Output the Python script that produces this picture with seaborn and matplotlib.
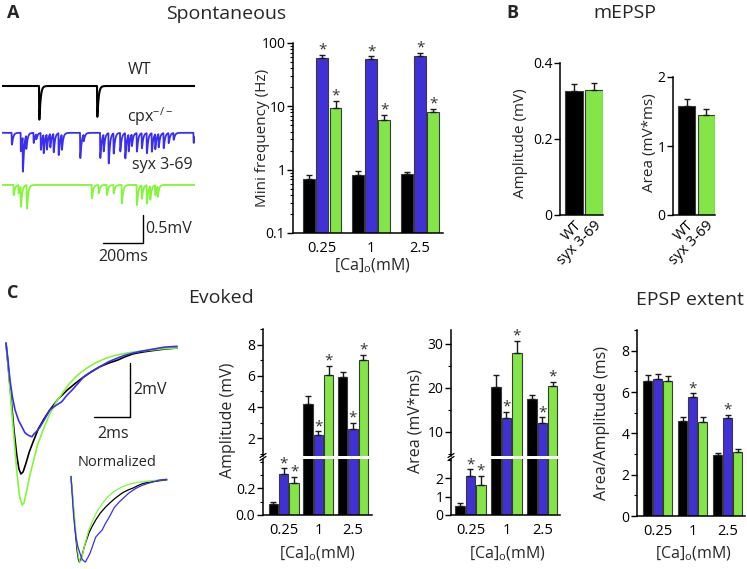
import numpy as np
import pandas as pd
import seaborn as sns
import matplotlib.pyplot as plt
from matplotlib.ticker import MultipleLocator, NullFormatter

sns.set_theme(style="ticks")
plt.rcParams['font.family'] = ['Open Sans', 'DejaVu Sans']
plt.rcParams['mathtext.fontset'] = 'custom'
plt.rcParams['mathtext.rm'] = 'Open Sans'

W, H = 747, 569
BLACK, BLUE, GREEN = '#000000', '#2a16f2', '#7cff2e'
TBLUE, TGREEN = '#3a2ef0', '#84f53a'
genos = ['WT', 'cpx-/-', 'syx 3-69']
conc = ['0.25', '1', '2.5']

# --- spontaneous events (ms, mV)
wt_ev_t = [185, 475]
wt_ev_a = [0.60, 0.55]
cpx_ev_t = [48, 93, 103, 120, 157, 170, 193, 207, 223, 240, 257, 282, 298, 390, 407,
            490, 507, 532, 557, 590, 615, 632, 648, 673, 698, 723, 748, 765, 782, 807,
            832, 857, 957]
cpx_ev_a = [0.21, 0.33, 0.62, 0.24, 0.18, 0.09, 0.30, 0.33, 0.27, 0.24, 0.33, 0.39, 0.27,
            0.45, 0.12, 0.45, 0.30, 0.54, 0.36, 0.33, 0.45, 0.30, 0.21, 0.33, 0.27, 0.36,
            0.33, 0.27, 0.24, 0.27, 0.18, 0.12, 0.18]
syx_ev_t = [57, 82, 93, 123, 448, 482, 523, 557, 598, 673, 698, 723, 740, 765, 777]
syx_ev_a = [0.18, 0.15, 0.36, 0.42, 0.24, 0.15, 0.18, 0.15, 0.33, 0.36, 0.24, 0.33, 0.24,
            0.18, 0.18]

# --- mini frequency (Hz)
freq_wt, freq_wt_err = [0.72, 0.83, 0.85], [0.11, 0.11, 0.07]
freq_cpx, freq_cpx_err = [58, 55.8, 63], [7.0, 5.7, 6.5]
freq_syx, freq_syx_err = [9.4, 6.0, 8.0], [2.9, 1.4, 1.1]
freq_star = [[0, 0, 0], [1, 1, 1], [1, 1, 1]]

# --- mEPSP
mepsp_amp, mepsp_amp_err = [0.327, 0.330], [0.018, 0.017]
mepsp_area, mepsp_area_err = [1.58, 1.45], [0.10, 0.087]

# --- evoked EPSP traces (ms, mV)
ev_black_t = [0, 0.15, 0.3, 0.45, 0.6, 0.72, 0.83, 0.95, 1.1, 1.3, 1.5, 1.8, 2.1, 2.44, 2.9,
              3.4, 3.85, 4.3, 4.75, 5.2, 5.7, 6.2, 6.6, 7.05, 7.5, 8.0, 8.7, 9.5]
ev_black_v = [0.07, -1.0, -2.1, -3.2, -4.1, -4.6, -4.78, -4.7, -4.4, -3.95, -3.6, -3.1, -2.75,
              -2.4, -2.0, -1.67, -1.42, -1.19, -0.99, -0.81, -0.67, -0.56, -0.44, -0.33, -0.27,
              -0.22, -0.16, -0.11]
ev_green_t = [0, 0.15, 0.3, 0.45, 0.6, 0.75, 0.89, 1.0, 1.15, 1.3, 1.5, 1.75, 2.06, 2.4, 2.8,
              3.2, 3.56, 4.0, 4.5, 5.0, 5.6, 6.1, 6.7, 7.3, 8.0, 8.7, 9.5]
ev_green_v = [0.07, -1.0, -2.3, -3.5, -4.7, -5.6, -5.93, -5.85, -5.4, -4.9, -4.37, -3.7, -3.15,
              -2.6, -2.1, -1.72, -1.4, -1.1, -0.85, -0.65, -0.48, -0.38, -0.3, -0.24, -0.19,
              -0.14, -0.11]
ev_blue_t = [0, 0.1, 0.22, 0.35, 0.5, 0.7, 0.89, 1.05, 1.2, 1.35, 1.44, 1.55, 1.7, 1.89, 2.1,
             2.44, 2.75, 3.1, 3.4, 3.67, 4.0, 4.3, 4.75, 5.2, 5.7, 6.2, 6.6, 7.05, 7.6, 8.2,
             8.8, 9.5]
ev_blue_v = [0.07, -0.5, -1.3, -1.9, -2.4, -2.8, -3.04, -3.25, -3.33, -3.38, -3.4, -3.3, -3.2,
             -3.04, -2.8, -2.4, -2.25, -2.1, -1.85, -1.67, -1.42, -1.19, -0.98, -0.81, -0.62,
             -0.48, -0.38, -0.3, -0.22, -0.15, -0.08, -0.05]

# --- evoked amplitude (mV)
amp_wt, amp_wt_err = [0.08, 4.2, 5.9], [0.02, 0.52, 0.37]
amp_cpx, amp_cpx_err = [0.312, 2.2, 2.62], [0.04, 0.25, 0.35]
amp_syx, amp_syx_err = [0.237, 6.06, 7.03], [0.05, 0.58, 0.33]
amp_star = [[0, 0, 0], [1, 1, 1], [1, 1, 1]]

# --- evoked area (mV*ms)
area_wt, area_wt_err = [0.5, 20.1, 17.4], [0.15, 2.9, 0.9]
area_cpx, area_cpx_err = [2.15, 13.07, 12.0], [0.34, 1.45, 1.3]
area_syx, area_syx_err = [1.66, 27.9, 20.4], [0.49, 2.8, 0.9]
area_star = [[0, 0, 0], [1, 1, 1], [1, 1, 1]]

# --- area / amplitude (ms)
ratio_wt, ratio_wt_err = [6.51, 4.6, 2.95], [0.32, 0.21, 0.11]
ratio_cpx, ratio_cpx_err = [6.62, 5.78, 4.73], [0.25, 0.16, 0.16]
ratio_syx, ratio_syx_err = [6.54, 4.57, 3.08], [0.25, 0.24, 0.14]
ratio_star = [[0, 0, 0], [0, 1, 1], [0, 0, 0]]


fig = plt.figure(figsize=(W / 100, H / 100), dpi=100)


def px_axes(x0, y0, x1, y1):
    return fig.add_axes([x0 / W, 1 - y1 / H, (x1 - x0) / W, (y1 - y0) / H])


def T(x, y, s, **kw):
    kw.setdefault('ha', 'center')
    kw.setdefault('va', 'center')
    fig.text(x / W, 1 - y / H, s, **kw)


def style(ax, bottom=True):
    sns.despine(ax=ax, bottom=not bottom)
    for s in ['left', 'bottom']:
        ax.spines[s].set_linewidth(1.1)
        ax.spines[s].set_color('black')
    ax.tick_params(axis='y', which='major', length=4, width=1, labelsize=10, colors='black', pad=1.5)
    ax.tick_params(axis='y', which='minor', length=2, width=0.8, colors='black')
    ax.tick_params(axis='x', length=0, labelsize=10.5, colors='black', pad=6)
    ax.set_xlabel('')
    ax.set_ylabel('')


def bar_chart(ax, vals, errs, stars, width, ylim, xlim):
    df = pd.DataFrame({'ca': conc * 3, 'geno': np.repeat(genos, 3), 'val': np.concatenate(vals)})
    sns.barplot(data=df, x='ca', y='val', hue='geno', order=conc, hue_order=genos,
                palette=[BLACK, BLUE, GREEN], width=width, gap=0.1, edgecolor='#3a3a3a',
                linewidth=0.8, errorbar=None, legend=False, ax=ax)
    ax.set_ylim(*ylim)
    ax.set_xlim(*xlim)
    slot = width / 3
    for j in range(3):
        xs = np.arange(3) + (j - 1) * slot
        ax.errorbar(xs, vals[j], yerr=[np.zeros(3), errs[j]], fmt='none', ecolor='#1a1a1a',
                    elinewidth=1, capsize=2.2, capthick=1, zorder=3)
        for i in range(3):
            top = vals[j][i] + errs[j][i]
            if stars[j][i] and ylim[0] < top < ylim[1]:
                ax.annotate('*', (xs[i], top), xytext=(0, -2), textcoords='offset points',
                            ha='center', va='bottom', fontsize=11, color='#333333')


def broken(x0, x1, ytop, ymid, ybot, vals, errs, stars, width, ylim_hi, ylim_lo, xlim,
           hi_major, hi_minor, lo_major, lo_minor):
    ax_hi = px_axes(x0, ytop, x1, ymid - 1.5)
    ax_lo = px_axes(x0, ymid + 1.5, x1, ybot)
    bar_chart(ax_hi, vals, errs, stars, width, ylim_hi, xlim)
    bar_chart(ax_lo, vals, errs, stars, width, ylim_lo, xlim)
    style(ax_hi, bottom=False)
    style(ax_lo)
    ax_hi.set_xticks([])
    ax_hi.yaxis.set_major_locator(MultipleLocator(hi_major))
    ax_hi.yaxis.set_minor_locator(MultipleLocator(hi_minor))
    ax_lo.yaxis.set_major_locator(MultipleLocator(lo_major))
    ax_lo.yaxis.set_minor_locator(MultipleLocator(lo_minor))
    ax_lo.set_yticks([t for t in ax_lo.get_yticks() if 0 <= t <= ylim_lo[1] * 0.9])
    ax_hi.set_yticks([t for t in ax_hi.get_yticks() if ylim_hi[0] * 1.5 < t <= ylim_hi[1]])
    ax_lo.set_ylim(*ylim_lo)
    ax_hi.set_ylim(*ylim_hi)
    # break marks on the y spine
    hpx = (ymid - 1.5 - ytop)
    wpx = x1 - x0
    for ax, yb, h in [(ax_hi, 0, hpx), (ax_lo, 1, ybot - ymid - 1.5)]:
        ax.plot([-3 / wpx, 3 / wpx], [yb - 2 / h, yb + 2 / h], transform=ax.transAxes,
                color='black', lw=0.9, clip_on=False)
    return ax_hi, ax_lo


# ================= A: spontaneous traces =================
ax = px_axes(2, 60, 195, 260)
tgrid = np.arange(0, 965, 0.5)
kern_x = np.arange(0, 80, 0.5)


def spont(ev_t, ev_a, base, rise=0.8, decay=6.0):
    k = (1 - np.exp(-kern_x / rise)) * np.exp(-kern_x / decay)
    k = k / k.max()
    v = np.full_like(tgrid, base)
    for t0, a in zip(ev_t, ev_a):
        i0 = int(t0 / 0.5)
        n = min(len(k), len(tgrid) - i0)
        v[i0:i0 + n] -= a * k[:n]
    return v


ax.plot(tgrid, spont(wt_ev_t, wt_ev_a, -0.464), color=BLACK, lw=1.5)
ax.plot(tgrid, spont(cpx_ev_t, cpx_ev_a, -1.30), color=TBLUE, lw=1.3)
ax.plot(tgrid, spont(syx_ev_t, syx_ev_a, -2.23), color=TGREEN, lw=1.3)
ax.plot([505, 705, 705], [-3.27, -3.27, -2.77], color='black', lw=1)
ax.text(715, -3.02, '0.5mV', ha='left', va='center', fontsize=11.5)
ax.text(605, -3.52, '200ms', ha='center', va='center', fontsize=11.5)
ax.text(690, -0.18, 'WT', ha='center', va='center', fontsize=11.5)
ax.text(740, -1.02, 'cpx$^{-/-}$', ha='center', va='center', fontsize=11.5)
ax.text(800, -1.875, 'syx 3-69', ha='center', va='center', fontsize=11.5)
ax.set_xlim(0, 965)
ax.set_ylim(-3.57, 0)
ax.axis('off')

# ================= A: mini frequency =================
ax = px_axes(293, 43, 443, 233)
bar_chart(ax, [freq_wt, freq_cpx, freq_syx], [freq_wt_err, freq_cpx_err, freq_syx_err],
          freq_star, 0.81, (0.1, 100), (-0.6, 2.47))
ax.set_yscale('log')
ax.set_ylim(0.1, 100)
style(ax)
ax.set_yticks([0.1, 1, 10, 100], labels=['0.1', '1', '10', '100'])
ax.yaxis.set_minor_formatter(NullFormatter())
T(262, 138, 'Mini frequency (Hz)', rotation=90, fontsize=11)
T(372, 266, '[Ca]$_\\mathregular{o}$(mM)', fontsize=11.5)

# ================= B: mEPSP =================
for (x0, y0, x1, vals, errs, top, ticks, lab, labx) in [
        (560, 63, 603, mepsp_amp, mepsp_amp_err, 0.4, [0, 0.2, 0.4], 'Amplitude (mV)', 521),
        (673, 77, 715, mepsp_area, mepsp_area_err, 2, [0, 1, 2], 'Area (mV*ms)', 650)]:
    ax = px_axes(x0, y0, x1, 215)
    df = pd.DataFrame({'geno': ['WT', 'syx 3-69'], 'val': vals})
    sns.barplot(data=df, x='geno', y='val', hue='geno', palette=[BLACK, GREEN], width=0.9,
                gap=0.05, edgecolor='#3a3a3a', linewidth=0.8, errorbar=None, legend=False, ax=ax)
    ax.errorbar([0, 1], vals, yerr=[[0, 0], errs], fmt='none', ecolor='#1a1a1a', elinewidth=1,
                capsize=2.2, capthick=1, zorder=3)
    ax.set_ylim(0, top)
    ax.set_xlim(-0.7, 1.45)
    style(ax)
    ax.set_yticks(ticks, labels=[str(t) for t in ticks])
    ax.set_xticks([0, 1], labels=['WT', 'syx 3-69'], rotation=45, ha='right',
                  rotation_mode='anchor')
    ax.tick_params(axis='x', pad=2)
    T(labx, 143, lab, rotation=90, fontsize=11)

# ================= C: evoked traces =================
ax = px_axes(0, 335, 185, 569)
ax.plot(ev_black_t, ev_black_v, color=BLACK, lw=1.2)
ax.plot(ev_green_t, ev_green_v, color=TGREEN, lw=1.2)
ax.plot(ev_blue_t, ev_blue_v, color=TBLUE, lw=1.2)
ax.plot([4.89, 6.89, 6.89], [-2.67, -2.67, -0.67], color='black', lw=1)
ax.text(7.05, -1.67, '2mV', ha='left', va='center', fontsize=11.5)
ax.text(5.94, -3.3, '2ms', ha='center', va='center', fontsize=11.5)
ax.text(6.17, -4.37, 'Normalized', ha='center', va='center', fontsize=10.5)
ax.set_xlim(-0.333, 9.94)
ax.set_ylim(-8.3, 0.37)
ax.axis('off')

ax = px_axes(65, 470, 175, 569)
for tt, vv, c in [(ev_black_t, ev_black_v, BLACK), (ev_green_t, ev_green_v, TGREEN),
                  (ev_blue_t, ev_blue_v, TBLUE)]:
    vv = np.array(vv)
    ax.plot(tt, vv / abs(vv.min()), color=c, lw=0.9)
ax.set_xlim(-0.59, 10.3)
ax.set_ylim(-1.083, 0.095)
ax.axis('off')

# ================= C: evoked amplitude =================
broken(263, 372, 329, 457, 515, [amp_wt, amp_cpx, amp_syx],
       [amp_wt_err, amp_cpx_err, amp_syx_err], amp_star, 0.9, (0.9, 9.0), (0, 0.425),
       (-0.6, 2.55), 2, 1, 0.2, 0.1)
T(228, 420, 'Amplitude (mV)', rotation=90, fontsize=11.5)
T(317, 554, '[Ca]$_\\mathregular{o}$(mM)', fontsize=11.5)

# ================= C: evoked area =================
broken(451, 560, 330, 457, 515, [area_wt, area_cpx, area_syx],
       [area_wt_err, area_cpx_err, area_syx_err], area_star, 0.87, (4.67, 33.1), (0, 3.08),
       (-0.54, 2.49), 10, 5, 1, 1)
T(415, 421, 'Area (mV*ms)', rotation=90, fontsize=11.5)
T(507, 554, '[Ca]$_\\mathregular{o}$(mM)', fontsize=11.5)

# ================= C: area / amplitude =================
ax = px_axes(637, 330, 745, 516)
bar_chart(ax, [ratio_wt, ratio_cpx, ratio_syx], [ratio_wt_err, ratio_cpx_err, ratio_syx_err],
          ratio_star, 0.86, (0, 9), (-0.6, 2.49))
style(ax)
ax.yaxis.set_major_locator(MultipleLocator(2))
ax.yaxis.set_minor_locator(MultipleLocator(1))
T(602, 423, 'Area/Amplitude (ms)', rotation=90, fontsize=11.5)
T(693, 554, '[Ca]$_\\mathregular{o}$(mM)', fontsize=11.5)

# ================= titles and panel letters =================
T(226, 14, 'Spontaneous', fontsize=14)
T(625, 13, 'mEPSP', fontsize=14)
T(221, 298, 'Evoked', fontsize=14)
T(690, 300, 'EPSP extent', fontsize=14)
T(13, 13, 'A', fontsize=13, fontweight='bold')
T(512, 13, 'B', fontsize=13, fontweight='bold')
T(13, 293, 'C', fontsize=13, fontweight='bold')

fig.savefig('out.png', dpi=100)
